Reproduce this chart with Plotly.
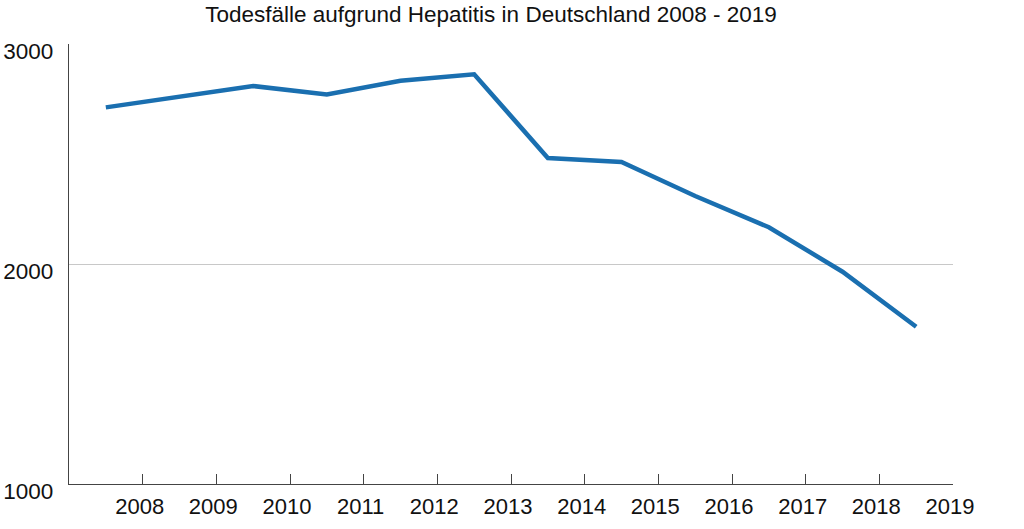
import plotly.graph_objects as go

years = [2008, 2009, 2010, 2011, 2012, 2013, 2014, 2015, 2016, 2017, 2018, 2019]
deaths = [2712, 2762, 2809, 2771, 2833, 2862, 2482, 2464, 2309, 2167, 1965, 1715]
tick_years = [2008, 2009, 2010, 2011, 2012, 2013, 2014, 2015, 2016, 2017, 2018, 2019]
y_ticks = [1000, 2000, 3000]
title_text = "Todesfälle aufgrund Hepatitis in Deutschland 2008 - 2019"

FONT = "Liberation Sans, Arial, Helvetica, sans-serif"

# points sit in the middle of each year band, labels at the band edges
x_pos = [y - 0.5 for y in years]

fig = go.Figure()
fig.add_trace(go.Scatter(
    x=x_pos, y=deaths, mode="lines",
    line=dict(color="#1a6fb0", width=4.5),
    hoverinfo="skip", showlegend=False,
))

fig.update_layout(
    width=1024, height=529,
    margin=dict(l=69, r=71, t=44, b=45, autoexpand=False),
    paper_bgcolor="white", plot_bgcolor="white",
    font=dict(family=FONT, color="#111111"),
    title=dict(text=title_text, x=0.4795, xanchor="center", y=0.9735, yanchor="middle",
               font=dict(size=22.5, family=FONT, color="#111111")),
    xaxis=dict(
        range=[2007, 2019], tickmode="array", tickvals=tick_years,
        ticktext=[str(t) for t in tick_years],
        showgrid=False, zeroline=False, automargin=False,
        showline=True, linecolor="#444444", linewidth=1.2,
        ticks="inside", ticklen=10, tickcolor="#444444", tickwidth=1.2,
        tickfont=dict(size=22, family=FONT, color="#111111"),
        ticklabelshift=-3, ticklabelstandoff=2,
        fixedrange=True,
    ),
    yaxis=dict(
        range=[1000, 3000], tickmode="array", tickvals=y_ticks,
        ticktext=[str(t) for t in y_ticks],
        showgrid=True, gridcolor="#c8c8c8", gridwidth=1,
        zeroline=False, automargin=False,
        showline=True, linecolor="#444444", linewidth=1.2,
        ticks="", tickfont=dict(size=22.5, family=FONT, color="#111111"),
        ticklabelshift=7, ticklabelstandoff=10,
        fixedrange=True,
    ),
)

fig.write_html("out.html", config={"displayModeBar": False},
               post_script="document.body.style.margin='0';document.body.style.overflow='hidden';")
